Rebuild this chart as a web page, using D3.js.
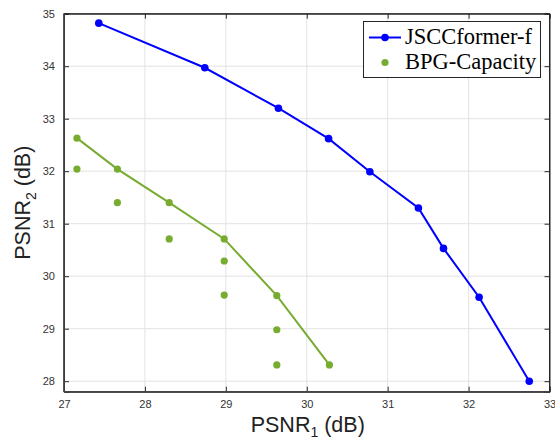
<!DOCTYPE html>
<html><head><meta charset="utf-8">
<script src="https://cdn.jsdelivr.net/npm/d3@7"></script>
<style>body{margin:0;background:#fff;} svg{display:block;}</style>
</head><body>
<script>
// Data
const jsccX = [27.43, 28.74, 29.65, 30.27, 30.78, 31.38, 31.69, 32.13, 32.75];
const jsccY = [34.82, 33.97, 33.20, 32.62, 31.99, 31.30, 30.53, 29.60, 28.00];
const bpgX = [27.16, 27.16, 27.66, 27.66, 28.30, 28.30, 28.98, 28.98, 28.98, 29.63, 29.63, 29.63, 30.28];
const bpgY = [32.63, 32.04, 32.04, 31.40, 31.40, 30.71, 30.71, 30.29, 29.64, 29.63, 28.98, 28.31, 28.31];
const frontX = [27.16, 27.66, 28.30, 28.98, 29.63, 30.28];
const frontY = [32.63, 32.04, 31.40, 30.71, 29.63, 28.31];
const xTicks = [27, 28, 29, 30, 31, 32, 33];
const yTicks = [28, 29, 30, 31, 32, 33, 34, 35];
const seriesNames = ["JSCCformer-f", "BPG-Capacity"];

const W = 555, H = 441;
const L = 64, R = 549.5, T = 13.7, B = 391.7;
const svg = d3.select("body").append("svg").attr("width", W).attr("height", H);
const x = d3.scaleLinear().domain([27, 33]).range([L, R]);
const y = d3.scaleLinear().domain([27.8, 35]).range([B, T]);

// grid
svg.append("g").selectAll("line").data(xTicks.slice(1, -1)).join("line")
  .attr("x1", d => x(d)).attr("x2", d => x(d)).attr("y1", T).attr("y2", B)
  .attr("stroke", "#e3e3e3").attr("stroke-width", 1);
svg.append("g").selectAll("line").data(yTicks.slice(0, -1)).join("line")
  .attr("y1", d => y(d)).attr("y2", d => y(d)).attr("x1", L).attr("x2", R)
  .attr("stroke", "#e3e3e3").attr("stroke-width", 1);

// axes
const axCol = "#262626";
const xAx = svg.append("g").attr("transform", `translate(0,${B})`)
  .call(d3.axisBottom(x).tickValues(xTicks).tickSize(-5).tickPadding(9).tickFormat(d3.format("d")));
const xAxT = svg.append("g").attr("transform", `translate(0,${T})`)
  .call(d3.axisTop(x).tickValues(xTicks).tickSize(-5).tickFormat(""));
const yAx = svg.append("g").attr("transform", `translate(${L},0)`)
  .call(d3.axisLeft(y).tickValues(yTicks).tickSize(-5).tickPadding(9).tickFormat(d3.format("d")));
const yAxR = svg.append("g").attr("transform", `translate(${R},0)`)
  .call(d3.axisRight(y).tickValues(yTicks).tickSize(-5).tickFormat(""));
[xAx, xAxT, yAx, yAxR].forEach(g => {
  g.selectAll("path").attr("stroke", axCol).attr("stroke-width", 1);
  g.selectAll("line").attr("stroke", axCol);
  g.selectAll("text").attr("fill", "#333").attr("font-family", "Liberation Sans, Arial, sans-serif").attr("font-size", 11);
});
svg.append("rect").attr("x", L).attr("y", T).attr("width", R - L).attr("height", B - T)
  .attr("fill", "none").attr("stroke", axCol).attr("stroke-width", 1);
svg.append("line").attr("x1", L).attr("x2", R).attr("y1", B).attr("y2", B).attr("stroke", "#444").attr("stroke-width", 1.6);
svg.append("line").attr("x1", L).attr("x2", L).attr("y1", T).attr("y2", B).attr("stroke", "#444").attr("stroke-width", 1.6);

const blue = "#0000ff", green = "#77ac30";
const line = d3.line().x(d => x(d[0])).y(d => y(d[1]));

// frontier line
svg.append("path").datum(frontX.map((d, i) => [d, frontY[i]]))
  .attr("d", line).attr("fill", "none").attr("stroke", green).attr("stroke-width", 2);
svg.append("g").selectAll("circle").data(bpgX.map((d, i) => [d, bpgY[i]])).join("circle")
  .attr("cx", d => x(d[0])).attr("cy", d => y(d[1])).attr("r", 3.6).attr("fill", green);

// JSCC
svg.append("path").datum(jsccX.map((d, i) => [d, jsccY[i]]))
  .attr("d", line).attr("fill", "none").attr("stroke", blue).attr("stroke-width", 2);
svg.append("g").selectAll("circle").data(jsccX.map((d, i) => [d, jsccY[i]])).join("circle")
  .attr("cx", d => x(d[0])).attr("cy", d => y(d[1])).attr("r", 3.8).attr("fill", blue);

// legend
const lg = svg.append("g");
lg.append("rect").attr("x", 363.5).attr("y", 21.5).attr("width", 177).attr("height", 56)
  .attr("fill", "#fff").attr("stroke", axCol).attr("stroke-width", 1);
lg.append("line").attr("x1", 369).attr("x2", 401).attr("y1", 37.5).attr("y2", 37.5).attr("stroke", blue).attr("stroke-width", 2);
lg.append("circle").attr("cx", 385).attr("cy", 37.5).attr("r", 3.8).attr("fill", blue);
lg.append("circle").attr("cx", 385).attr("cy", 62.5).attr("r", 3.6).attr("fill", green);
lg.selectAll("text.lt").data(seriesNames).join("text").attr("class", "lt")
  .attr("x", 405).attr("y", (d, i) => 44.3 + i * 25)
  .attr("font-family", "Liberation Serif, Times New Roman, serif").attr("font-size", 22.5)
  .attr("fill", "#000").text(d => d);

// axis labels
const xl = svg.append("text").attr("x", (L + R) / 2 + 1).attr("y", 432).attr("text-anchor", "middle")
  .attr("font-family", "Liberation Sans, Arial, sans-serif").attr("font-size", 21.5).attr("fill", "#222");
xl.append("tspan").text("PSNR");
xl.append("tspan").attr("font-size", 14).attr("dy", 5).text("1");
xl.append("tspan").attr("dy", -5).text(" (dB)");

const yl = svg.append("text").attr("transform", `translate(30,${(T + B) / 2}) rotate(-90)`).attr("text-anchor", "middle")
  .attr("font-family", "Liberation Sans, Arial, sans-serif").attr("font-size", 21.5).attr("fill", "#222");
yl.append("tspan").text("PSNR");
yl.append("tspan").attr("font-size", 14).attr("dy", 6).text("2");
yl.append("tspan").attr("dy", -6).text(" (dB)");
</script>
</body></html>
